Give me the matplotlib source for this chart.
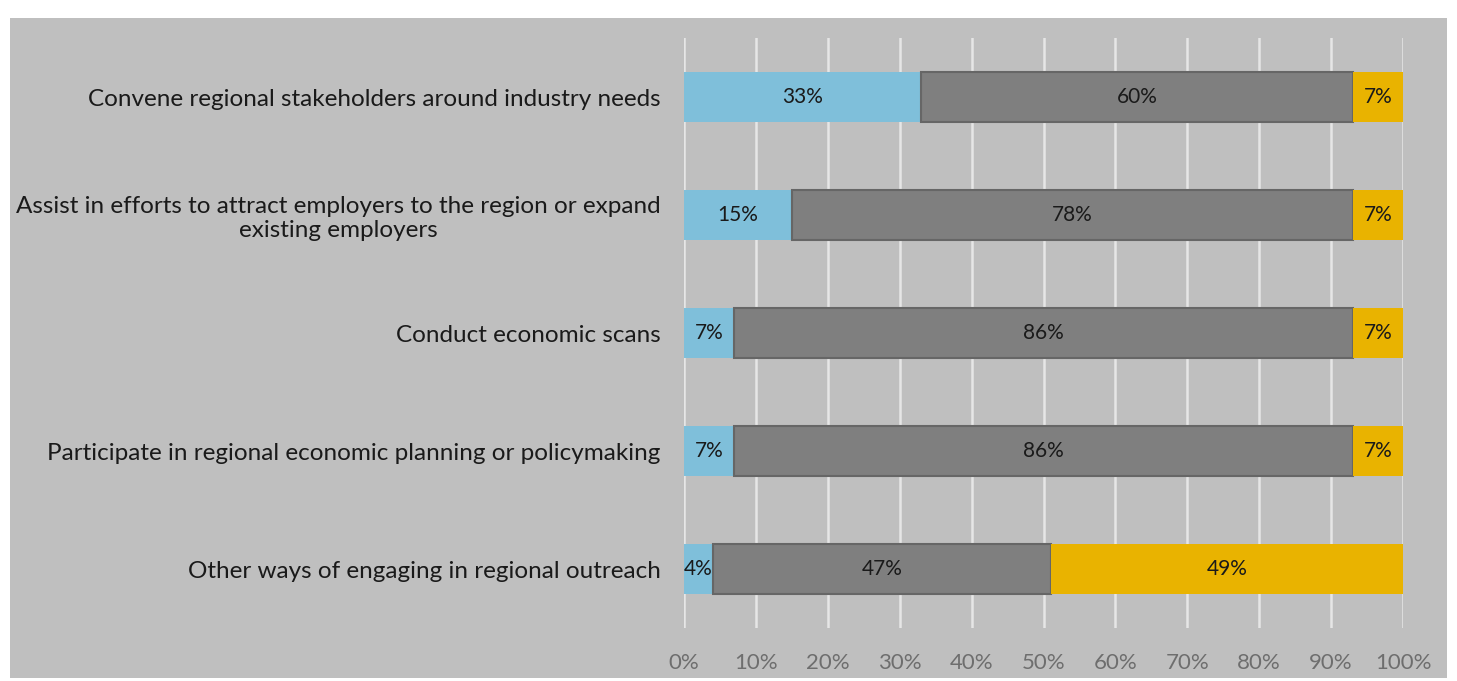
import matplotlib.pyplot as plt
import numpy as np
from matplotlib.patches import Rectangle

# categories, top to bottom
categories = [
    "Convene regional stakeholders around industry needs",
    "Assist in efforts to attract employers to the region or expand\nexisting employers",
    "Conduct economic scans",
    "Participate in regional economic planning or policymaking",
    "Other ways of engaging in regional outreach",
]
blue_vals = [33, 15, 7, 7, 4]
gray_vals = [60, 78, 86, 86, 47]
gold_vals = [7, 7, 7, 7, 49]
tick_labels = ["0%", "10%", "20%", "30%", "40%", "50%", "60%", "70%", "80%", "90%", "100%"]

BLUE = "#7fbfda"
GRAY = "#7f7f7f"
GOLD = "#e9b300"
BG = "#bfbfbf"

plt.rcParams['font.family'] = ['Lato', 'DejaVu Sans']

fig = plt.figure(figsize=(14.57, 6.81), dpi=100)
fig.patch.set_facecolor("white")
# gray panel behind the chart
fig.patches.append(Rectangle((10 / 1457, 3 / 681), 1437 / 1457, 660 / 681,
                             transform=fig.transFigure, facecolor=BG,
                             edgecolor="none", zorder=-10))

ax = fig.add_axes([684 / 1457, 53 / 681, 719 / 1457, 590 / 681])
ax.set_facecolor("none")
ax.set_zorder(5)

y = np.arange(len(categories))
h = 0.42
blue = np.array(blue_vals)
gray = np.array(gray_vals)
gold = np.array(gold_vals)

ax.barh(y, blue, height=h, color=BLUE, zorder=3)
ax.barh(y, gray, left=blue, height=h, color=GRAY, edgecolor="#666666",
        linewidth=1.5, zorder=3)
ax.barh(y, gold, left=blue + gray, height=h, color=GOLD, zorder=3)

for i in range(len(categories)):
    for left, val in [(0, blue[i]), (blue[i], gray[i]), (blue[i] + gray[i], gold[i])]:
        ax.text(left + val / 2, y[i], f"{val}%", ha="center", va="center",
                fontsize=15, color="#1a1a1a", zorder=4)

ax.set_xlim(0, 100)
ax.set_ylim(len(categories) - 0.5, -0.5)
ax.set_xticks(np.arange(0, 101, 10))
ax.set_xticklabels(tick_labels, fontsize=16, color="#6e6e6e")
ax.set_yticks(y)
ax.set_yticklabels(categories, fontsize=17.5, color="#1a1a1a")
for lbl in ax.get_yticklabels():
    lbl.set_multialignment("center")
ax.tick_params(axis="both", length=0)
ax.tick_params(axis="x", pad=18)
ax.tick_params(axis="y", pad=17)
ax.grid(axis="x", color="#e6e6e6", linewidth=1.8, zorder=0)
ax.set_axisbelow(True)
for s in ax.spines.values():
    s.set_visible(False)

fig.savefig("out.png", dpi=100, facecolor=fig.get_facecolor())
